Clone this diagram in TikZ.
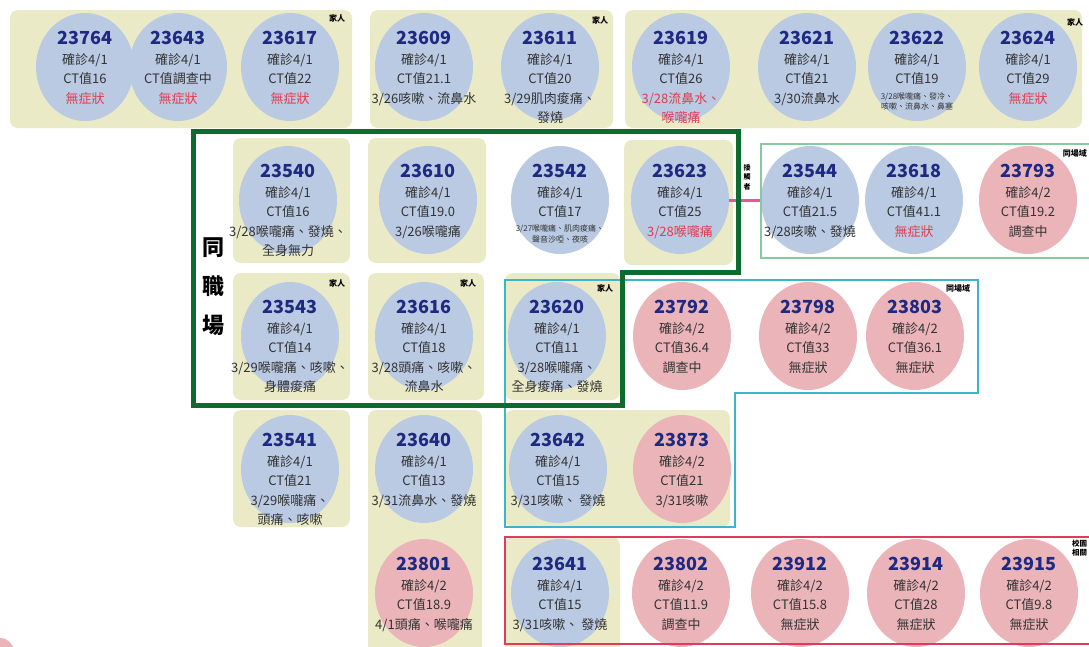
\documentclass[tikz,border=0pt]{standalone}
\usepackage{fontspec}
\setmainfont{Noto Sans CJK TC}
\usepackage{xcolor}
\usetikzlibrary{shapes.geometric, positioning}

\definecolor{boxyellow}{HTML}{EAEBC6}
\definecolor{caseblue}{HTML}{BACAE3}
\definecolor{casepink}{HTML}{EAB4B9}
\definecolor{idblue}{HTML}{1E2A82}
\definecolor{txtgray}{HTML}{333333}
\definecolor{symred}{HTML}{E23B4E}
\definecolor{workgreen}{HTML}{0C6B2F}
\definecolor{sitegreen}{HTML}{86CBA0}
\definecolor{sitecyan}{HTML}{3DB5C9}
\definecolor{schoolred}{HTML}{E03A5C}
\definecolor{contactpink}{HTML}{E8559A}

\newcommand{\cid}[1]{{\fontsize{18}{20}\selectfont\bfseries\color{idblue}#1}}
\newcommand{\symp}[1]{\textcolor{symred}{#1}}
\newcommand{\smalltxt}[1]{{\fontsize{8}{9}\selectfont #1}}

\begin{document}
\begin{tikzpicture}[
    x=1pt, y=-1pt,
    group/.style={fill=boxyellow, rounded corners=8pt},
    bluecase/.style={ellipse, fill=caseblue, minimum width=98pt, minimum height=108pt, inner sep=0pt},
    pinkcase/.style={bluecase, fill=casepink},
    casetxt/.style={anchor=north, align=center, inner sep=0pt, text=txtgray, font=\fontsize{13}{19.5}\selectfont, yshift=36pt},
    tag/.style={font=\fontsize{8}{9}\selectfont\bfseries, inner sep=0pt, text=black, align=center},
    workframe/.style={draw=workgreen, line width=5pt},
    siteframe/.style={draw=sitegreen, line width=1.6pt},
    cyanframe/.style={draw=sitecyan, line width=1.6pt},
    schoolframe/.style={draw=schoolred, line width=2pt},
    contact/.style={draw=contactpink, line width=3pt}
]
    \useasboundingbox[fill=white] (0,0) rectangle (1089,646);

    % Family groups
    \fill[group] (10,10) rectangle (352,128);
    \fill[group] (370,10) rectangle (613,128);
    \fill[group] (625,10) rectangle (1082,128);
    \fill[group] (233,138) rectangle (350,263);
    \fill[group] (368,138) rectangle (486,263);
    \fill[group] (624,140) rectangle (733,265);
    \fill[group] (233,273) rectangle (350,400);
    \fill[group] (368,273) rectangle (484,400);
    \fill[group] (505,273) rectangle (620,400);
    \fill[group] (233,410) rectangle (350,527);
    \fill[group] (368,410) rectangle (482,660);
    \fill[group] (505,410) rectangle (730,527);
    \fill[group] (505,537) rectangle (620,660);

    % Row 1
    \node[bluecase] (c23764) at (85,67) {};
    \node[casetxt] at (c23764) {\cid{23764}\\確診4/1\\CT值16\\\symp{無症狀}};
    \node[bluecase] (c23643) at (178,67) {};
    \node[casetxt] at (c23643) {\cid{23643}\\確診4/1\\CT值調查中\\\symp{無症狀}};
    \node[bluecase] (c23617) at (290,67) {};
    \node[casetxt] at (c23617) {\cid{23617}\\確診4/1\\CT值22\\\symp{無症狀}};
    \node[bluecase] (c23609) at (424,67) {};
    \node[casetxt] at (c23609) {\cid{23609}\\確診4/1\\CT值21.1\\3/26咳嗽、流鼻水};
    \node[bluecase] (c23611) at (550,67) {};
    \node[casetxt] at (c23611) {\cid{23611}\\確診4/1\\CT值20\\3/29肌肉痠痛、\\發燒};
    \node[bluecase] (c23619) at (681,67) {};
    \node[casetxt] at (c23619) {\cid{23619}\\確診4/1\\CT值26\\\symp{3/28流鼻水、}\\\symp{喉嚨痛}};
    \node[bluecase] (c23621) at (807,67) {};
    \node[casetxt] at (c23621) {\cid{23621}\\確診4/1\\CT值21\\3/30流鼻水};
    \node[bluecase] (c23622) at (917,67) {};
    \node[casetxt] at (c23622) {\cid{23622}\\確診4/1\\CT值19\\[-4pt]\smalltxt{3/28喉嚨痛、發冷、}\\[-9pt]\smalltxt{咳嗽、流鼻水、鼻塞}};
    \node[bluecase] (c23624) at (1028,67) {};
    \node[casetxt] at (c23624) {\cid{23624}\\確診4/1\\CT值29\\\symp{無症狀}};

    % Row 2
    \node[bluecase] (c23540) at (288,200) {};
    \node[casetxt] at (c23540) {\cid{23540}\\確診4/1\\CT值16\\3/28喉嚨痛、發燒、\\全身無力};
    \node[bluecase] (c23610) at (428,200) {};
    \node[casetxt] at (c23610) {\cid{23610}\\確診4/1\\CT值19.0\\3/26喉嚨痛};
    \node[bluecase] (c23542) at (560,200) {};
    \node[casetxt] at (c23542) {\cid{23542}\\確診4/1\\CT值17\\[-5pt]\smalltxt{3/27喉嚨痛、肌肉痠痛、}\\[-8pt]\smalltxt{聲音沙啞、夜咳}};
    \node[bluecase] (c23623) at (680,200) {};
    \node[casetxt] at (c23623) {\cid{23623}\\確診4/1\\CT值25\\\symp{3/28喉嚨痛}};
    \node[bluecase] (c23544) at (810,200) {};
    \node[casetxt] at (c23544) {\cid{23544}\\確診4/1\\CT值21.5\\3/28咳嗽、發燒};
    \node[bluecase] (c23618) at (914,200) {};
    \node[casetxt] at (c23618) {\cid{23618}\\確診4/1\\CT值41.1\\\symp{無症狀}};
    \node[pinkcase] (c23793) at (1028,200) {};
    \node[casetxt] at (c23793) {\cid{23793}\\確診4/2\\CT值19.2\\調查中};

    % Row 3
    \node[bluecase] (c23543) at (290,336) {};
    \node[casetxt] at (c23543) {\cid{23543}\\確診4/1\\CT值14\\3/29喉嚨痛、咳嗽、\\身體痠痛};
    \node[bluecase] (c23616) at (424,336) {};
    \node[casetxt] at (c23616) {\cid{23616}\\確診4/1\\CT值18\\3/28頭痛、咳嗽、\\流鼻水};
    \node[bluecase] (c23620) at (557,336) {};
    \node[casetxt] at (c23620) {\cid{23620}\\確診4/1\\CT值11\\3/28喉嚨痛、\\全身痠痛、發燒};
    \node[pinkcase] (c23792) at (682,336) {};
    \node[casetxt] at (c23792) {\cid{23792}\\確診4/2\\CT值36.4\\調查中};
    \node[pinkcase] (c23798) at (808,336) {};
    \node[casetxt] at (c23798) {\cid{23798}\\確診4/2\\CT值33\\無症狀};
    \node[pinkcase] (c23803) at (915,336) {};
    \node[casetxt] at (c23803) {\cid{23803}\\確診4/2\\CT值36.1\\無症狀};

    % Row 4
    \node[bluecase] (c23541) at (290,469) {};
    \node[casetxt] at (c23541) {\cid{23541}\\確診4/1\\CT值21\\3/29喉嚨痛、\\頭痛、咳嗽};
    \node[bluecase] (c23640) at (424,469) {};
    \node[casetxt] at (c23640) {\cid{23640}\\確診4/1\\CT值13\\3/31流鼻水、發燒};
    \node[bluecase] (c23642) at (558,469) {};
    \node[casetxt] at (c23642) {\cid{23642}\\確診4/1\\CT值15\\3/31咳嗽、 發燒};
    \node[pinkcase] (c23873) at (682,469) {};
    \node[casetxt] at (c23873) {\cid{23873}\\確診4/2\\CT值21\\3/31咳嗽};

    % Row 5
    \node[pinkcase] (c23801) at (424,593) {};
    \node[casetxt] at (c23801) {\cid{23801}\\確診4/2\\CT值18.9\\4/1頭痛、喉嚨痛};
    \node[bluecase] (c23641) at (560,593) {};
    \node[casetxt] at (c23641) {\cid{23641}\\確診4/1\\CT值15\\3/31咳嗽、 發燒};
    \node[pinkcase] (c23802) at (681,593) {};
    \node[casetxt] at (c23802) {\cid{23802}\\確診4/2\\CT值11.9\\調查中};
    \node[pinkcase] (c23912) at (800,593) {};
    \node[casetxt] at (c23912) {\cid{23912}\\確診4/2\\CT值15.8\\無症狀};
    \node[pinkcase] (c23914) at (916,593) {};
    \node[casetxt] at (c23914) {\cid{23914}\\確診4/2\\CT值28\\無症狀};
    \node[pinkcase] (c23915) at (1029,593) {};
    \node[casetxt] at (c23915) {\cid{23915}\\確診4/2\\CT值9.8\\無症狀};
    \node[pinkcase, minimum width=28pt, minimum height=28pt] (cpart) at (0,652) {};

    % Contact link
    \draw[contact] (c23623.east) -- (c23544.west);

    % Frames
    \draw[siteframe] (761,144) rectangle (1100,258);
    \draw[cyanframe] (505,280) -- (978,280) -- (978,393) -- (735,393) -- (735,527) -- (505,527) -- cycle;
    \draw[schoolframe] (505,537) rectangle (1100,644);
    \draw[workframe] (193,131) -- (738,131) -- (738,272) -- (622,272) -- (622,405) -- (193,405) -- cycle;

    % Labels
    \node[font=\fontsize{22}{39}\selectfont\bfseries, align=center, inner sep=0pt] (workplace) at (213,287) {同\\職\\場};
    \node[tag, font=\fontsize{7}{9.5}\selectfont\bfseries] (contactlbl) at (747,177) {接\\觸\\者};
    \node[tag] (fam1) at (337,18) {家人};
    \node[tag] (fam2) at (600,20) {家人};
    \node[tag] (fam3) at (1075,22) {家人};
    \node[tag] (fam4) at (337,283) {家人};
    \node[tag] (fam5) at (468,283) {家人};
    \node[tag] (fam6) at (605,288) {家人};
    \node[tag] (site1) at (958,288) {同場域};
    \node[tag, anchor=east] (site2) at (1087,153) {同場域};
    \node[tag, anchor=west, font=\fontsize{7.5}{9}\selectfont\bfseries] (school) at (1072,548) {校園\\相關};
\end{tikzpicture}
\end{document}
